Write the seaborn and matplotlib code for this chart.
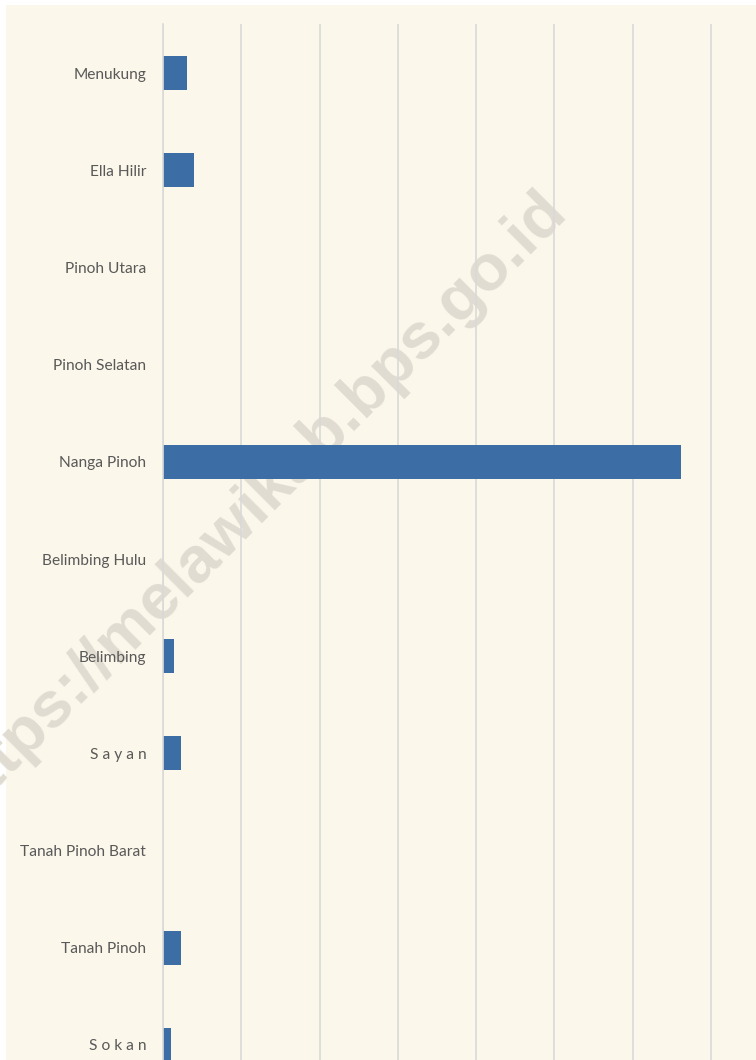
import matplotlib
matplotlib.use("Agg")
import matplotlib.pyplot as plt
import seaborn as sns
import pandas as pd
from matplotlib.patches import Rectangle

categories = ["Menukung", "Ella Hilir", "Pinoh Utara", "Pinoh Selatan", "Nanga Pinoh",
              "Belimbing Hulu", "Belimbing", "S a y a n", "Tanah Pinoh Barat",
              "Tanah Pinoh", "S o k a n"]
values = [15.5, 20, 0, 0, 331, 0, 7, 11.5, 0, 11.5, 5.4]
grid_step = 50

df = pd.DataFrame({"kecamatan": categories, "nilai": values})

sns.set_theme(style="white")
plt.rcParams["font.family"] = ["Lato", "DejaVu Sans"]

W, H = 756, 1060
fig = plt.figure(figsize=(W / 100, H / 100), dpi=100, facecolor="white")
cream = "#FBF7EA"
fig.patches.append(Rectangle((6 / W, 0), 1 - 6 / W, 1 - 5 / H, transform=fig.transFigure,
                             facecolor=cream, edgecolor="none", zorder=-10))

left_px, top_px = 163, 24.4
step_px = 97.2
bottom_px = top_px + step_px * len(categories)
ax = fig.add_axes([left_px / W, 1 - bottom_px / H, (W - left_px) / W, (bottom_px - top_px) / H])
ax.set_facecolor("none")

sns.barplot(data=df, y="kecamatan", x="nilai", orient="h", color="#3C6EA5",
            width=0.35, edgecolor="none", linewidth=0, saturation=1, ax=ax)

px_per_unit = 78.3 / grid_step
ax.set_xlim(0, (W - left_px) / px_per_unit)
ax.set_xticks([grid_step * i for i in range(0, 8)])
ax.set_xticklabels([])
ax.xaxis.grid(True, color="#D9D9D9", linewidth=1.2)
ax.yaxis.grid(False)
ax.set_axisbelow(True)
ax.set_xlabel("")
ax.set_ylabel("")
for s in ["top", "right", "bottom"]:
    ax.spines[s].set_visible(False)
ax.spines["left"].set_color("#D9D9D9")
ax.spines["left"].set_linewidth(1.2)
ax.tick_params(axis="y", length=0, pad=12, labelsize=11.2, labelcolor="#595959")
ax.tick_params(axis="x", length=0)

fig.text(265.8 / W, 1 - 515.2 / H, "https://melawikab.bps.go.id", rotation=45,
         rotation_mode="anchor", ha="center", va="baseline", fontsize=47,
         fontweight="bold", family=["Liberation Sans", "DejaVu Sans"],
         color="#E0DCD1", zorder=-5)

fig.savefig("out.png", dpi=100, facecolor="white")
